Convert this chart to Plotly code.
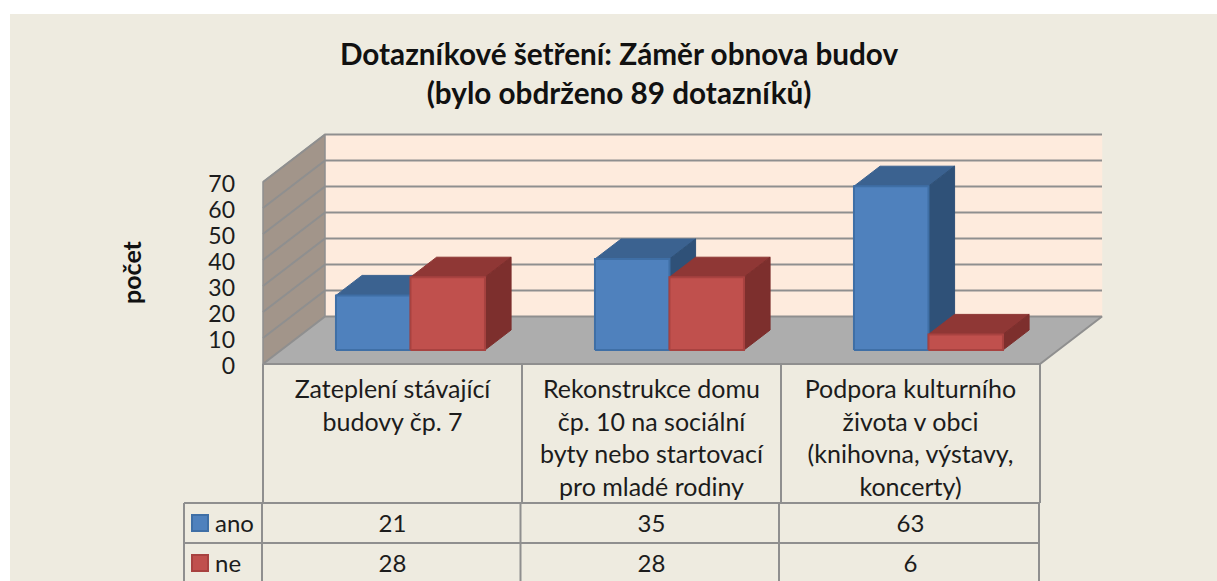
import plotly.graph_objects as go

categories = [
    "Zateplení stávající<br>budovy čp. 7",
    "Rekonstrukce domu<br>čp. 10 na sociální<br>byty nebo startovací<br>pro mladé rodiny",
    "Podpora kulturního<br>života v obci<br>(knihovna, výstavy,<br>koncerty)",
]
ano = [21, 35, 63]
ne = [28, 28, 6]
y_ticks = [0, 10, 20, 30, 40, 50, 60, 70]
title_lines = "<b>Dotazníkové šetření: Záměr obnova budov</b><br><b>(bylo obdrženo 89 dotazníků)</b>"

W, H = 1217, 581
PANEL_L, PANEL_T = 10, 14
X0, Y0 = 263, 364
PX_CAT, PX_VAL = 259, 2.6
FONT = "Lato"
BG, LINE, WALL_B, WALL_L, FLOOR = "#EEEBE0", "#8F8F8F", "#FEEBDD", "#A2958A", "#ADADAD"
TXT = "#1c1c1c"

DX, DY = 62 / PX_CAT, 47.5 / PX_VAL


def ux(px):
    return (px - X0) / PX_CAT


def uy(py):
    return (Y0 - py) / PX_VAL


def proj(c, v, d):
    return c + DX * d, v + DY * d


fig = go.Figure()


def poly(pts, fill, line=None, lw=1.5, name=None):
    xs = [p[0] for p in pts] + [pts[0][0]]
    ys = [p[1] for p in pts] + [pts[0][1]]
    fig.add_trace(go.Scatter(x=xs, y=ys, mode="lines", fill="toself", fillcolor=fill,
                             line=dict(color=line or fill, width=lw), hoverinfo="skip",
                             showlegend=False, name=name))


def seg(pts, color=LINE, lw=2):
    fig.add_trace(go.Scatter(x=[p[0] for p in pts], y=[p[1] for p in pts], mode="lines",
                             line=dict(color=color, width=lw), hoverinfo="skip", showlegend=False))


n = len(categories)
vmax = y_ticks[-1]
# walls and floor
poly([proj(0, 0, 1), proj(n, 0, 1), proj(n, vmax, 1), proj(0, vmax, 1)], WALL_B, WALL_B, 0.5)
poly([proj(0, 0, 0), proj(0, 0, 1), proj(0, vmax, 1), proj(0, vmax, 0)], WALL_L, LINE, 1.5)
for v in y_ticks[1:]:
    seg([proj(0, v, 0), proj(0, v, 1), proj(n, v, 1)])
poly([proj(0, 0, 0), proj(0, 0, 1), proj(n, 0, 1), proj(n, 0, 0)], FLOOR, LINE, 2)

# bars
D_FRONT, D_BACK = 14 / 47.5, 34 / 47.5
GAP, BW = 54.7 / PX_CAT, 74.5 / PX_CAT
SERIES = [
    ("ano", ano, "#4F81BD", "#3B6290", "#2F5178", "#3F6FA6"),
    ("ne", ne, "#C0504D", "#8F3735", "#7D2F2D", "#A84240"),
]
for i in range(n):
    for s, (name, vals, front, top, side, edge) in enumerate(SERIES):
        l, r, v = i + GAP + s * BW, i + GAP + (s + 1) * BW, vals[i]
        poly([proj(l, v, D_FRONT), proj(r, v, D_FRONT), proj(r, v, D_BACK), proj(l, v, D_BACK)], top, top, 1, name)
        poly([proj(r, 0, D_FRONT), proj(r, 0, D_BACK), proj(r, v, D_BACK), proj(r, v, D_FRONT)], side, side, 1, name)
        poly([proj(l, 0, D_FRONT), proj(r, 0, D_FRONT), proj(r, v, D_FRONT), proj(l, v, D_FRONT)], front, edge, 2, name)

# data table grid
ROW_TOP, ROW_1, ROW_2 = uy(503), uy(543), uy(583)
TOP = uy(364)
for c in [263, 522, 781, 1040]:
    seg([(ux(c), TOP), (ux(c), ROW_TOP)])
for c in [184, 262, 520.5, 779, 1039]:
    seg([(ux(c), ROW_TOP), (ux(c), ROW_2)])
for r in [ROW_TOP, ROW_1, ROW_2]:
    seg([(ux(184), r), (ux(1039), r)])

centers = [i + 0.5 for i in range(n)]
row_y = [524, 564]
for (name, vals, front, _t, _s, edge), ry in zip(SERIES, row_y):
    fig.add_trace(go.Scatter(x=centers, y=[uy(ry + 1.5)] * n, mode="text", text=[str(v) for v in vals],
                             textposition="middle center", textfont=dict(family=FONT, size=24, color=TXT),
                             hoverinfo="skip", showlegend=False, name=name))
    fig.add_trace(go.Scatter(x=[ux(200)], y=[uy(ry - 1)], mode="markers",
                             marker=dict(symbol="square", size=16, color=front, line=dict(color=edge, width=2)),
                             hoverinfo="skip", showlegend=False, name=name))
    fig.add_annotation(x=ux(213), y=uy(ry - 1.5), text=name, xref="x", yref="y", showarrow=False, xanchor="left",
                       yanchor="middle", font=dict(family=FONT, size=24, color=TXT))

fig.add_annotation(x=(131 - PANEL_L) / (W - PANEL_L), y=uy(272), xref="paper", yref="y", text="<b>počet</b>",
                   textangle=-90, showarrow=False, xanchor="center", yanchor="middle",
                   font=dict(family=FONT, size=25, color="#111111"))

PW, PH = W - PANEL_L, H - PANEL_T
fig.update_layout(
    width=W, height=H,
    margin=dict(l=PANEL_L, t=PANEL_T, r=0, b=0, pad=0),
    paper_bgcolor="white", plot_bgcolor=BG,
    showlegend=False,
    title=dict(text=title_lines, x=619 / W, xanchor="center", y=1 - 65 / H, yanchor="top",
               font=dict(family=FONT, size=29.7, color="#111111")),
    xaxis=dict(range=[ux(PANEL_L), ux(W)], domain=[0, 1], anchor="free", position=(H - Y0) / PH,
               tickmode="array", tickvals=centers, ticktext=categories,
               tickfont=dict(family=FONT, size=25, color=TXT), ticks="", showgrid=False, zeroline=False, showline=False,
               tickangle=0, ticklabelstandoff=8, fixedrange=True),
    yaxis=dict(range=[uy(H), uy(PANEL_T)], domain=[0, 1], anchor="free", position=(X0 - PANEL_L) / PW,
               tickmode="array", tickvals=y_ticks, ticktext=[str(v) for v in y_ticks],
               tickfont=dict(family=FONT, size=23, color=TXT), ticks="", showgrid=False, zeroline=False, showline=False,
               ticklabelstandoff=28, ticklabelshift=2, fixedrange=True),
)
fig.write_html("out.html", post_script="document.body.style.margin='0';document.documentElement.style.overflow='hidden';",
               config={"displayModeBar": False})
